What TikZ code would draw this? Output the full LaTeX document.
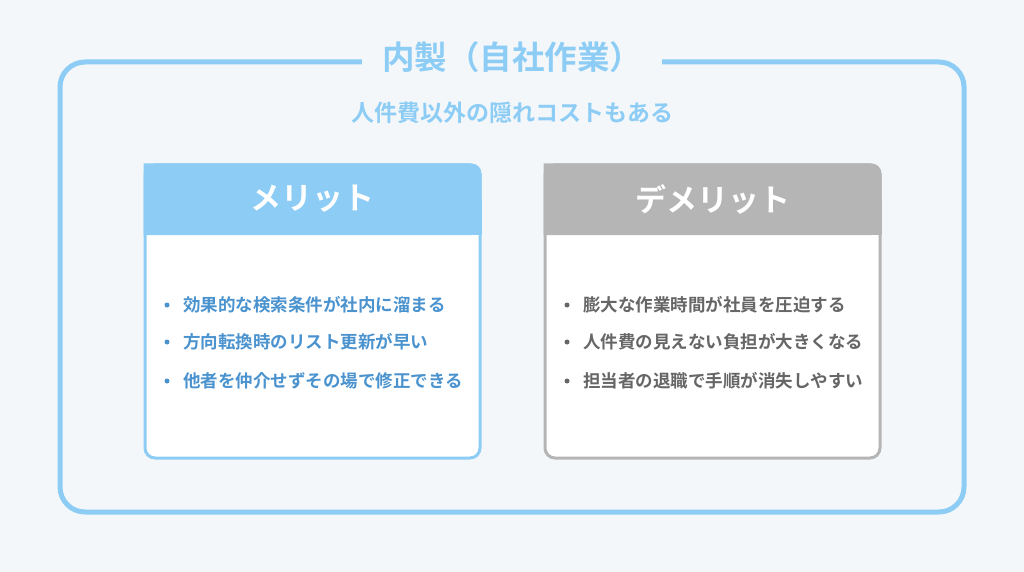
\documentclass[tikz,border=0pt]{standalone}
\usepackage{fontspec}
\setmainfont{Noto Sans CJK JP}[BoldFont={* Bold}]
\definecolor{bg}{HTML}{F3F7FA}
\definecolor{blu}{HTML}{8DCDF5}
\definecolor{btxt}{HTML}{4A93CF}
\definecolor{gry}{HTML}{B5B5B5}
\definecolor{gtxt}{HTML}{666666}
\tikzset{
 panel/.style={line width=3pt, rounded corners=10pt, fill=white},
 item/.style={anchor=west, font=\bfseries\fontsize{17.5}{20}\selectfont, inner sep=0pt},
 dot/.style={circle, inner sep=0pt, minimum size=5pt},
 head/.style={font=\bfseries\fontsize{31}{35}\selectfont, text=white}
}
\begin{document}
\begin{tikzpicture}[x=1pt,y=-1pt]
\useasboundingbox (0,0) rectangle (1024,572);
\fill[bg] (0,0) rectangle (1024,572);
\draw[blu, line width=5pt, rounded corners=25pt] (60,62) rectangle (964,512);
\node[fill=bg, inner xsep=20pt, text=blu, font=\bfseries\fontsize{32.5}{36}\selectfont] (title) at (512,57) {内製（自社作業）};
\node[text=blu, font=\bfseries\fontsize{23}{27}\selectfont] (sub) at (512,113) {人件費以外の隠れコストもある};
% left
\draw[panel, draw=blu] (145,165) rectangle (480,458);
\fill[blu, rounded corners=10pt] (143.5,163.5) -- (481.5,163.5) -- (481.5,235) [sharp corners] -- (143.5,235) -- cycle;
\fill[blu] (143.5,200) rectangle (481.5,235);
\node[head] (lh) at (312.5,199) {メリット};
\foreach \y/\t [count=\i] in {305/効果的な検索条件が社内に溜まる,342/方向転換時のリスト更新が早い,381/他者を仲介せずその場で修正できる}{
 \node[dot, fill=btxt] (ld\i) at (167,\y) {};
 \node[item, text=btxt] (lt\i) at (183,\y) {\t};
}
% right
\draw[panel, draw=gry] (545,165) rectangle (880,458);
\fill[gry, rounded corners=10pt] (543.5,163.5) -- (881.5,163.5) -- (881.5,235) [sharp corners] -- (543.5,235) -- cycle;
\fill[gry] (543.5,200) rectangle (881.5,235);
\node[head] (rh) at (712.5,199) {デメリット};
\foreach \y/\t [count=\i] in {305/膨大な作業時間が社員を圧迫する,342/人件費の見えない負担が大きくなる,381/担当者の退職で手順が消失しやすい}{
 \node[dot, fill=gtxt] (rd\i) at (567,\y) {};
 \node[item, text=gtxt] (rt\i) at (583,\y) {\t};
}
\end{tikzpicture}
\end{document}
